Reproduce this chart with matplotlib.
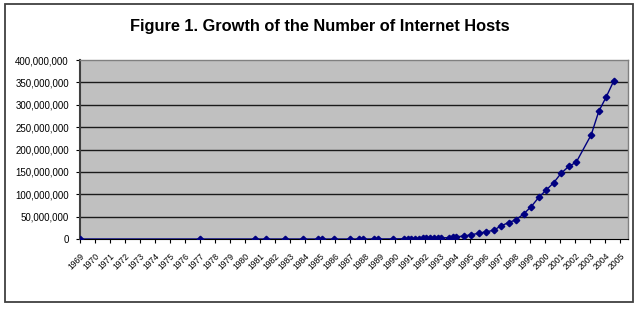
import matplotlib
matplotlib.use("Agg")

import matplotlib.pyplot as plt
import numpy as np
from matplotlib.patches import Rectangle
from matplotlib.ticker import FuncFormatter

plt.rcParams['font.family'] = ['Liberation Sans', 'DejaVu Sans']

TITLE = "Figure 1. Growth of the Number of Internet Hosts"

# survey dates (year, month) and host counts
YEARS = [1969, 1977, 1981, 1982, 1983, 1984, 1985, 1986, 1986, 1987,
         1988, 1988, 1989, 1989, 1990, 1991, 1991,
         1992, 1992, 1992, 1992, 1993, 1993, 1993, 1993,
         1994, 1994, 1994, 1995, 1995, 1996, 1996, 1997, 1997,
         1998, 1998, 1999, 1999, 2000, 2000, 2001, 2001,
         2002, 2002, 2003, 2004, 2004, 2005, 2005]
MONTHS = [12, 12, 8, 5, 8, 10, 10, 2, 11, 12,
          7, 10, 7, 10, 10, 7, 10,
          1, 4, 7, 10, 1, 4, 7, 10,
          1, 7, 10, 1, 7, 1, 7, 1, 7,
          1, 7, 1, 7, 1, 7, 1, 7,
          1, 7, 1, 1, 7, 1, 7]
HOSTS = [4, 111, 213, 235, 562, 1024, 1961, 2308, 5089, 28174,
         33000, 56000, 130000, 159000, 313000, 535000, 617000,
         727000, 890000, 992000, 1136000, 1313000, 1486000, 1776000, 2056000,
         2217000, 3212000, 3864000, 4852000, 6642000, 9472000, 12881000,
         16146000, 19540000, 29670000, 36739000, 43230000, 56218000,
         72398092, 93047785, 109574429, 125888197, 147344723, 162128493,
         171638297, 233101481, 285139107, 317646084, 353284187]

TICK_YEARS = list(range(1969, 2006))
Y_TICKS = list(range(0, 400_000_001, 50_000_000))


def main():
    t = np.array(YEARS) + (np.array(MONTHS) - 1) / 12.0
    t0 = t[0]

    fig = plt.figure(figsize=(6.4, 3.09), dpi=100)
    fig.patches.append(Rectangle((5 / 640, 7 / 309), 628 / 640, 298 / 309,
                                 transform=fig.transFigure, fill=False,
                                 edgecolor='#404040', linewidth=1.3))
    ax = fig.add_axes([80 / 640, 70 / 309, 548 / 640, 179 / 309])
    ax.set_facecolor('#C0C0C0')

    for y in Y_TICKS[1:-1]:
        ax.axhline(y, color='#1a1a1a', linewidth=1.0, zorder=1)

    ax.plot(t, HOSTS, '-', color='#000080', linewidth=1.0, zorder=3,
            marker='D', markersize=3.3, markerfacecolor='#000080',
            markeredgecolor='#000080')

    ax.set_xlim(t0, t0 + 548 / 15)
    ax.set_ylim(0, 400_000_000)
    ax.set_xticks([t0 + (yr - 1969) for yr in TICK_YEARS])
    ax.set_xticklabels([str(yr) for yr in TICK_YEARS], rotation=45,
                       ha='right', va='top', rotation_mode='anchor', fontsize=6.2)
    ax.set_yticks(Y_TICKS)
    ax.yaxis.set_major_formatter(FuncFormatter(lambda v, p: f"{int(v):,}"))
    ax.tick_params(axis='y', labelsize=7, length=3, width=0.8, pad=5)
    ax.tick_params(axis='x', length=3, width=0.8, pad=6)

    for side in ('top', 'right'):
        ax.spines[side].set_color('#808080')
        ax.spines[side].set_linewidth(1.0)
    ax.spines['left'].set_color('#404040')
    ax.spines['left'].set_linewidth(1.5)
    ax.spines['bottom'].set_color('#000000')
    ax.spines['bottom'].set_linewidth(0.8)

    fig.text(0.5, 1 - 27 / 309, TITLE, ha='center', va='center',
             fontsize=11.8, fontweight='bold')

    plt.savefig("out.png", dpi=100)


if __name__ == "__main__":
    main()
